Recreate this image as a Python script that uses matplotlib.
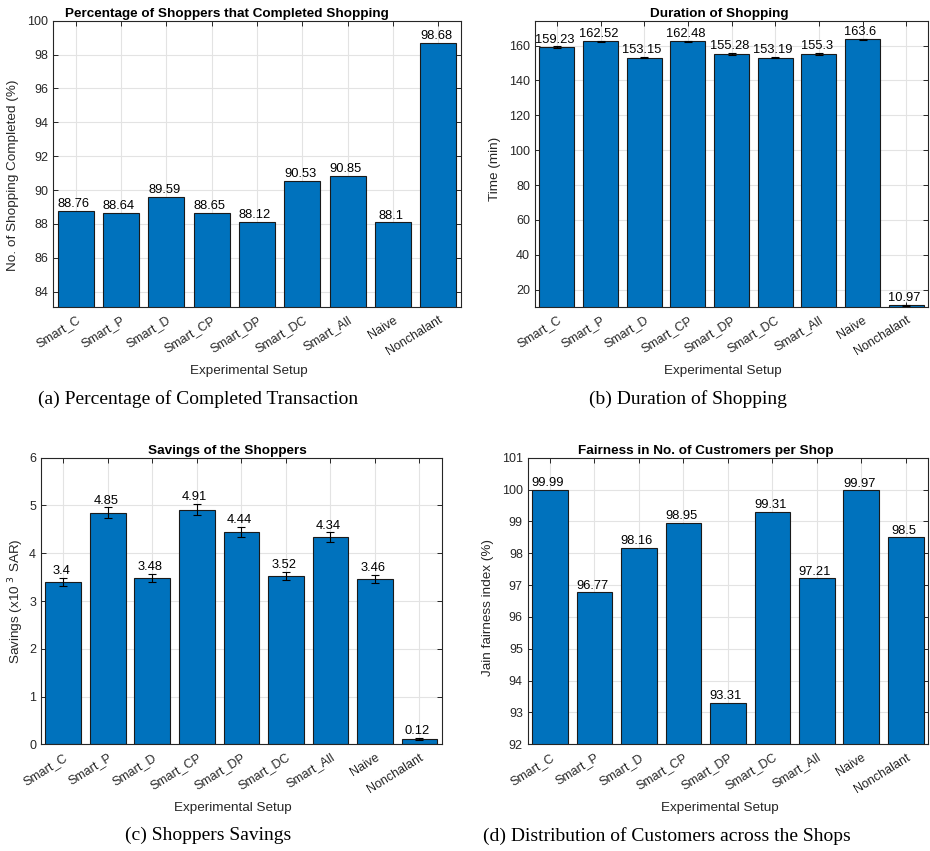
import matplotlib.pyplot as plt
import numpy as np

setups = ['Smart_C', 'Smart_P', 'Smart_D', 'Smart_CP', 'Smart_DP',
          'Smart_DC', 'Smart_All', 'Naive', 'Nonchalant']

completed = [88.76, 88.64, 89.59, 88.65, 88.12, 90.53, 90.85, 88.1, 98.68]

duration = [159.23, 162.52, 153.15, 162.48, 155.28, 153.19, 155.3, 163.6, 10.97]
duration_err = [0.4, 0.4, 0.4, 0.4, 0.4, 0.4, 0.4, 0.4, 0.4]

savings = [3.4, 4.85, 3.48, 4.91, 4.44, 3.52, 4.34, 3.46, 0.12]
savings_err = [0.09, 0.11, 0.09, 0.12, 0.11, 0.09, 0.1, 0.09, 0.02]

fairness = [99.99, 96.77, 98.16, 98.95, 93.31, 99.31, 97.21, 99.97, 98.5]

W, H = 930, 851
BLUE = '#0072BD'
DARK = '#262626'

plt.rcParams['font.family'] = ['Liberation Sans', 'DejaVu Sans']
plt.rcParams['font.size'] = 9

fig = plt.figure(figsize=(W / 100, H / 100), dpi=100)


def px(x, y):
    return x / W, 1 - y / H


def make_axes(left, top, right, bottom):
    return fig.add_axes([left / W, 1 - bottom / H, (right - left) / W, (bottom - top) / H])


def panel(ax, vals, err, ylim, yticks, title, title_x, ylabel, ylabel_pos,
          xlabel_pos, caption, caption_pos):
    x = np.arange(1, len(vals) + 1)
    ax.bar(x, vals, width=0.8, color=BLUE, edgecolor='#1a1a1a', linewidth=0.8, zorder=2)
    tops = np.array(vals, dtype=float)
    if err is not None:
        ax.errorbar(x, vals, yerr=err, fmt='none', ecolor='black', elinewidth=0.8,
                    capsize=3, capthick=0.8, zorder=3)
        tops = tops + np.array(err)
    for xi, v, t in zip(x, vals, tops):
        ax.annotate(f'{v:g}', (xi, t), xytext=(-1.5, 0.5), textcoords='offset points',
                    ha='center', va='bottom', fontsize=9.3, color='black')
    ax.set_xlim(0.5, len(vals) + 0.5)
    ax.set_ylim(*ylim)
    ax.set_yticks(yticks)
    ax.set_xticks(x)
    ax.set_xticklabels(setups, rotation=32, ha='right', rotation_mode='anchor')
    ax.grid(True, color='#e3e3e3', linewidth=0.8, zorder=0)
    ax.set_axisbelow(True)
    ax.tick_params(direction='in', length=3.5, width=0.7, colors=DARK, labelsize=9,
                   top=True, right=True)
    ax.tick_params(axis='x', pad=5)
    for s in ax.spines.values():
        s.set_color(DARK)
        s.set_linewidth(0.8)
    ax.set_title(title, fontsize=9.7, fontweight='bold', x=title_x, pad=3)
    fig.text(*px(*ylabel_pos), ylabel, rotation=90, ha='center', va='center',
             fontsize=9.7, color=DARK)
    fig.text(*px(*xlabel_pos), 'Experimental Setup', ha='center', va='center',
             fontsize=9.7, color=DARK)
    fig.text(*px(*caption_pos), caption, ha='center', va='center', fontsize=14,
             family='Liberation Serif')


ax_a = make_axes(53, 20.7, 461, 307)
panel(ax_a, completed, None, (83.1, 100), np.arange(84, 101, 2),
      'Percentage of Shoppers that Completed Shopping', 0.426,
      'No. of Shopping Completed (%)', (12.7, 175), (248.7, 371),
      '(a) Percentage of Completed Transaction', (198, 399))

ax_b = make_axes(535, 20.7, 928, 307)
panel(ax_b, duration, duration_err, (10.07, 174.3), np.arange(20, 161, 20),
      'Duration of Shopping', 0.47,
      'Time (min)', (495, 169), (723, 371),
      '(b) Duration of Shopping', (688, 399))

ax_c = make_axes(41, 457.7, 441.7, 744.3)
panel(ax_c, savings, savings_err, (0, 6), np.arange(0, 7, 1),
      'Savings of the Shoppers', 0.465,
      'Savings (x10 $^{3}$ SAR)', (16, 601.7), (233, 808),
      '(c) Shoppers Savings', (208, 835.7))

ax_d = make_axes(527.7, 457.7, 928, 744.3)
panel(ax_d, fairness, None, (92, 101), np.arange(92, 102, 1),
      'Fairness in No. of Custromers per Shop', 0.445,
      'Jain fairness index (%)', (487.7, 608), (720, 808),
      '(d) Distribution of Customers across the Shops', (666.7, 835.7))

fig.savefig('out.png', dpi=100)
